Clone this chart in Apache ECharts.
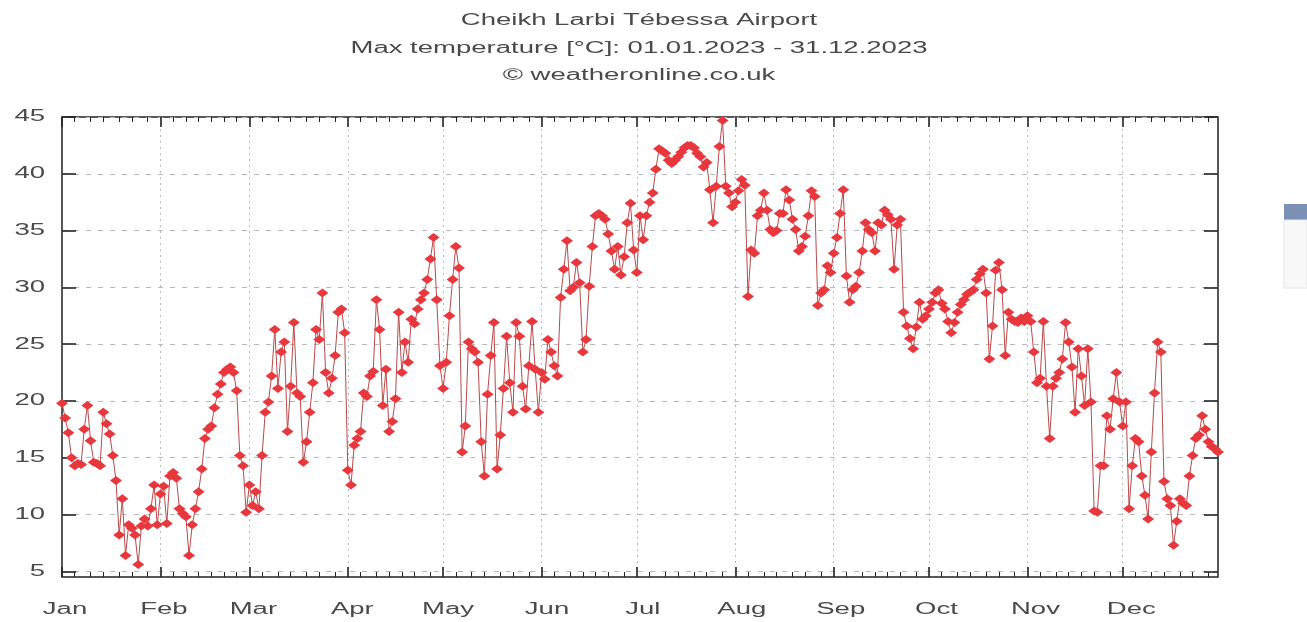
<!DOCTYPE html>
<html><head><meta charset="utf-8">
<script src="https://cdn.jsdelivr.net/npm/echarts@6/dist/echarts.min.js"></script>
<style>html,body{margin:0;padding:0;background:#fff;}#c{width:1307px;height:622px;}</style>
</head><body><div id="c"></div>
<script>
const titleLines = ['Cheikh Larbi Tébessa Airport', 'Max temperature [°C]: 01.01.2023 - 31.12.2023', '© weatheronline.co.uk'];
const monthNames = ['Jan','Feb','Mar','Apr','May','Jun','Jul','Aug','Sep','Oct','Nov','Dec'];
const monthDays = [31,28,31,30,31,30,31,31,30,31,30,31];
const yTickValues = [5,10,15,20,25,30,35,40,45];

const jan = [19.8,18.5,17.2,15.0,14.3,14.5,14.4,17.5,19.6,16.5,14.6,14.5,14.3,19.0,18.0,17.1,15.2,13.0,8.2,11.4,6.4,9.1,8.8,8.2,5.6,9.0,9.6,9.0,10.5,12.6,9.1];
const feb = [11.8,12.5,9.2,13.4,13.7,13.2,10.5,10.1,9.8,6.4,9.1,10.5,12.0,14.0,16.7,17.5,17.8,19.4,20.6,21.5,22.5,22.8,23.0,22.5,20.9,15.2,14.3,10.2];
const mar = [12.6,10.8,12.0,10.5,15.2,19.0,19.9,22.2,26.3,21.1,24.3,25.2,17.3,21.3,26.9,20.7,20.4,14.6,16.4,19.0,21.6,26.3,25.4,29.5,22.5,20.7,22.0,24.0,27.8,28.1,26.0];
const apr = [13.9,12.6,16.1,16.7,17.3,20.7,20.4,22.2,22.6,28.9,26.3,19.6,22.8,17.3,18.2,20.2,27.8,22.5,25.2,23.4,27.2,26.8,28.1,28.9,29.5,30.7,32.5,34.4,28.9,23.1];
const may = [21.1,23.4,27.5,30.7,33.6,31.7,15.5,17.8,25.2,24.6,24.3,23.4,16.4,13.4,20.6,24.0,26.9,14.0,17.0,21.1,25.7,21.6,19.0,26.9,25.7,21.3,19.3,23.1,27.0,22.8,19.0];
const jun = [22.5,21.9,25.4,24.3,23.1,22.2,29.1,31.6,34.1,29.7,30.0,32.2,30.4,24.3,25.4,30.1,33.6,36.3,36.5,36.3,36.0,34.7,33.2,31.6,33.6,31.1,32.7,35.7,37.4,33.3];
const jul = [31.3,36.3,34.2,36.3,37.5,38.3,40.4,42.2,42.0,41.8,41.2,40.9,41.2,41.5,41.9,42.3,42.5,42.5,42.3,41.8,41.5,40.6,41.0,38.6,35.7,38.9,42.4,44.7,38.9,38.3,37.1];
const aug = [37.5,38.5,39.5,39.0,29.2,33.3,33.0,36.3,36.8,38.3,36.8,35.1,34.8,35.0,36.5,36.5,38.6,37.7,36.0,35.1,33.2,33.6,34.5,36.3,38.5,38.0,28.4,29.5,29.8,31.9,31.3];
const sep = [33.0,34.4,36.5,38.6,31.0,28.7,29.8,30.1,31.3,33.2,35.7,35.1,34.8,33.2,35.7,35.5,36.8,36.4,36.0,31.6,35.5,36.0,27.8,26.6,25.5,24.6,26.5,28.7,27.2,27.5];
const oct = [28.1,28.7,29.5,29.8,28.6,28.1,27.0,26.0,26.9,27.8,28.5,28.9,29.4,29.6,29.8,30.7,31.2,31.6,29.5,23.7,26.6,31.5,32.2,29.8,24.0,27.8,27.2,27.0,26.9,27.3,27.0];
const nov = [27.5,27.0,24.3,21.6,22.0,27.0,21.3,16.7,21.3,22.0,22.5,23.7,26.9,25.2,23.0,19.0,24.6,22.2,19.6,24.6,19.9,10.3,10.2,14.3,14.3,18.7,17.5,20.2,22.5,19.9];
const dec = [17.8,19.9,10.5,14.3,16.7,16.4,13.4,11.7,9.6,15.5,20.7,25.2,24.3,12.9,11.4,10.8,7.3,9.4,11.4,11.0,10.8,13.4,15.2,16.7,17.0,18.7,17.5,16.4,16.0,15.8,15.5];

const values = [].concat(jan,feb,mar,apr,may,jun,jul,aug,sep,oct,nov,dec);
const days = [];
const monthStart = {};
const monthStartIdx = [];
const minorSet = {};
let idx = 0;
for (let m = 0; m < 12; m++) {
  monthStart[idx] = monthNames[m];
  monthStartIdx.push(idx);
  for (let k = 1; k < 7; k++) minorSet[idx + Math.round(k * monthDays[m] / 7)] = true;
  for (let d = 1; d <= monthDays[m]; d++) {
    days.push('2023-' + String(m + 1).padStart(2, '0') + '-' + String(d).padStart(2, '0'));
    idx++;
  }
}
const isMajor = (i) => monthStart[i] !== undefined;
const isMinor = (i) => minorSet[i] === true;

const textColor = '#4a4a4a';
const font = 'Liberation Sans';
const stretch = 1.72;
const chart = echarts.init(document.getElementById('c'));
const gridTop = 117, gridH = 460, yMin = 4.5, yMax = 45;
const catAxis = (pos, interval, len, major, split) => ({
  type: 'category', gridIndex: 0, position: pos, data: days, boundaryGap: false,
  axisLine: { show: false },
  axisTick: { show: true, inside: true, interval: interval, length: len, lineStyle: { color: '#222', width: major ? 1.6 : 1 } },
  axisLabel: { show: false },
  splitLine: split ? { show: true, interval: (i) => isMajor(i) && i > 0, lineStyle: { color: '#b8b8b8', type: [2, 4], width: 1 } } : { show: false }
});

chart.setOption({
  animation: false,
  backgroundColor: '#fff',
  grid: [
    { left: 62, top: gridTop, width: 1156, height: gridH, show: true, borderColor: '#222', borderWidth: 1.5, backgroundColor: 'transparent' },
    { left: 62, top: gridTop, width: 1156, height: gridH * (yMax - 5) / (yMax - yMin), show: false }
  ],
  xAxis: [
    catAxis('bottom', (i) => isMajor(i), 10, true, true),
    catAxis('bottom', (i) => isMinor(i), 5, false, false),
    catAxis('top', (i) => isMajor(i), 10, true, false),
    catAxis('top', (i) => isMinor(i), 5, false, false),
    { type: 'value', gridIndex: 1, show: false, min: 0, max: 1 }
  ],
  yAxis: [
    { type: 'value', gridIndex: 0, min: yMin, max: yMax, show: false },
    { type: 'value', gridIndex: 1, position: 'left', min: 5, max: 45, interval: 5,
      axisLine: { show: false },
      axisTick: { show: true, inside: true, length: 14, lineStyle: { color: '#222', width: 1.6 } },
      axisLabel: { show: false },
      splitLine: { show: true, lineStyle: { color: '#b8b8b8', type: [5, 7], width: 1 } } },
    { type: 'value', gridIndex: 1, position: 'right', min: 5, max: 45, interval: 5,
      axisLine: { show: false },
      axisTick: { show: true, inside: true, length: 14, lineStyle: { color: '#222', width: 1.6 } },
      axisLabel: { show: false }, splitLine: { show: false } }
  ],
  series: [{
    type: 'line', xAxisIndex: 0, yAxisIndex: 0, data: values,
    symbol: 'diamond', symbolSize: [12, 9], showAllSymbol: true,
    itemStyle: { color: '#e8383d' },
    lineStyle: { color: '#b84a4a', width: 1 },
    emphasis: { disabled: true }
  }]
});

// Text drawn horizontally stretched, positioned through the axes' own scales
const g = [];
const titleY = [21, 49, 76];
titleLines.forEach((t, i) => g.push({
  type: 'text', x: 639, y: titleY[i], scaleX: stretch,
  style: { text: t, fill: '#4a4a4a', font: '16px "' + font + '"', textAlign: 'center', textVerticalAlign: 'middle' }
}));
yTickValues.forEach((v) => {
  const py = chart.convertToPixel({ yAxisIndex: 1 }, v);
  g.push({ type: 'text', x: 45, y: py, scaleX: stretch,
    style: { text: String(v), fill: textColor, font: '16px "' + font + '"', textAlign: 'right', textVerticalAlign: 'middle' } });
});
monthStartIdx.forEach((i, m) => {
  const px = chart.convertToPixel({ xAxisIndex: 0 }, days[i]);
  g.push({ type: 'text', x: px + 3 + m * 0.5, y: 610, scaleX: stretch,
    style: { text: monthNames[m], fill: textColor, font: '16px "' + font + '"', textAlign: 'center', textVerticalAlign: 'middle' } });
});
g.push({ type: 'rect', shape: { x: 1284, y: 204, width: 23, height: 16 }, style: { fill: '#7b90b5' } });
g.push({ type: 'rect', shape: { x: 1284, y: 220, width: 23, height: 68 }, style: { fill: '#f8f8f8', stroke: '#e6e6e6', lineWidth: 1 } });
chart.setOption({ graphic: g });
</script></body></html>
